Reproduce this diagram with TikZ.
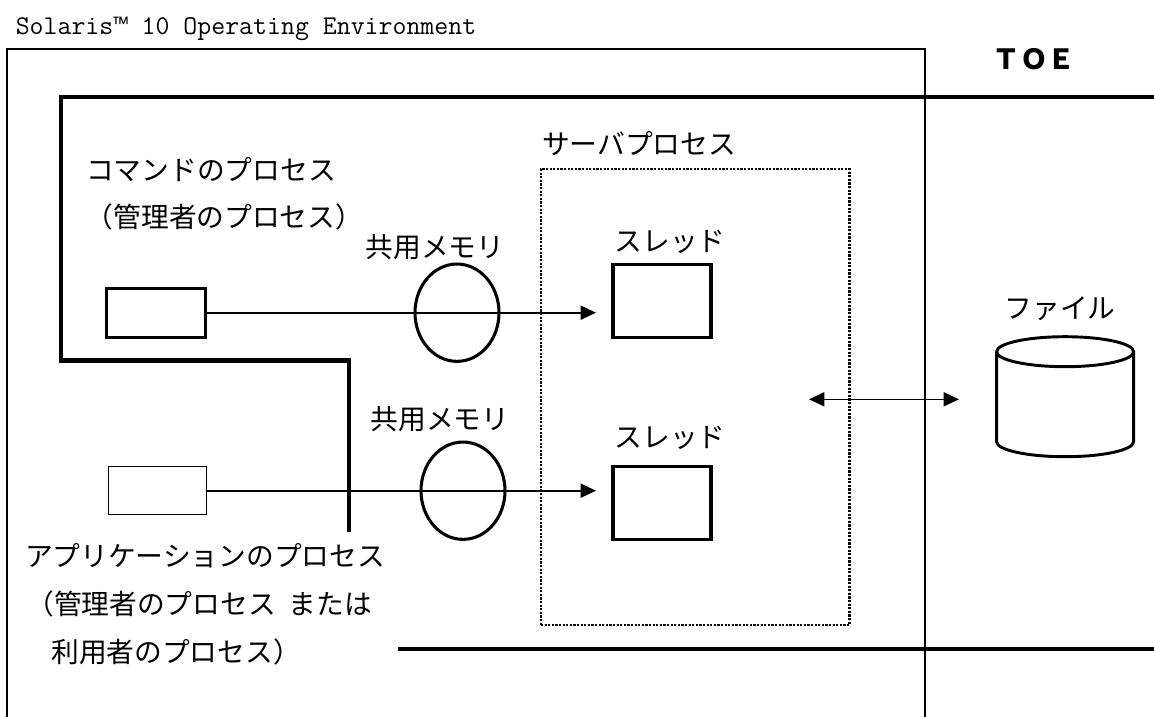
\documentclass[tikz,border=0pt]{standalone}
\usepackage{fontspec}
\usetikzlibrary{arrows.meta,shapes.geometric}
\newfontfamily\jpfont{Noto Sans CJK JP}
\newfontfamily\tmfont{Liberation Mono}
\setmonofont{Latin Modern Mono}
\tikzset{
  lbl/.style={inner sep=0pt,font=\jpfont\fontsize{20.8pt}{25pt}\selectfont,text height=18.3pt,text depth=2.5pt},
  frameline/.style={line width=1.4pt,draw=black},
  heavy/.style={line width=3.1pt,draw=black},
  boldbox/.style={draw=black,line width=2.3pt,inner sep=0pt,fill=none},
  thinbox/.style={draw=black,line width=1.1pt,inner sep=0pt},
  memo/.style={draw=black,ellipse,line width=2.3pt,inner sep=0pt,minimum width=63pt,minimum height=73pt},
  dotbox/.style={draw=black,line width=1.8pt,dash pattern=on 1.6pt off 1.1pt,inner sep=0pt},
  flow/.style={draw=black,line width=1.2pt,-{Triangle[length=11.5pt,width=10.5pt]}},
  both/.style={draw=black,line width=1.2pt,{Triangle[length=11.5pt,width=10.5pt]}-{Triangle[length=11.5pt,width=10.5pt]}}
}
\begin{document}
\begin{tikzpicture}[x=0.75pt,y=-0.75pt]
\useasboundingbox[fill=white] (0,0) rectangle (1154,717);
% frame
\draw[frameline] (7.4,717) -- (7.4,48.7) -- (925,48.7) -- (925,717);
% heavy lines
\draw[heavy,line cap=butt] (1154,96.7) -- (60.7,96.7) -- (60.7,360.5) -- (349,360.5) -- (349,531.5);
\draw[heavy] (397.5,648.7) -- (1154,648.7);
% server process
\node[dotbox,minimum width=231.3pt,minimum height=342pt] (server) at (695.2,397) {};
% boxes
\node[boldbox,minimum width=74pt,minimum height=36.5pt] (cmd) at (156,312.7) {};
\node[thinbox,minimum width=73.5pt,minimum height=36pt] (app) at (157.7,490.7) {};
\node[boldbox,minimum width=73.5pt,minimum height=54.5pt] (th1) at (662,300.8) {};
\node[boldbox,minimum width=73.5pt,minimum height=54.5pt] (th2) at (662,503) {};
\node[memo] (m1) at (457,312.7) {};
\node[memo] (m2) at (463,490.7) {};
% connectors
\coordinate (e1) at (596,312.7);
\coordinate (e2) at (596,490.7);
\coordinate (d1) at (809,399.3);
\coordinate (d2) at (959,399.3);
\draw[flow] (cmd.east) -- (e1);
\draw[flow] (app.east) -- (e2);
\draw[both] (d1) -- (d2);
% cylinder
\draw[line width=2.2pt,draw=black] (996.6,351.7) arc[x radius=68.5,y radius=15,start angle=180,end angle=-180]
  (996.6,351.7) -- (996.6,441.7) arc[x radius=68.5,y radius=15,start angle=180,end angle=0] -- (1133.6,351.7);
% labels
\node[inner sep=0pt,anchor=base west,font=\ttfamily\fontsize{20.3pt}{22pt}\selectfont] (title) at (15.5,35) {Solaris{\tmfont\fontsize{18pt}{22pt}\selectfont ™} 10 Operating Environment};
\node[lbl,font=\jpfont\bfseries\fontsize{20.8pt}{25pt}\selectfont] (toe) at (1034,58.5) {ＴＯＥ};
\node[lbl] (l1) at (211,169.5) {コマンドのプロセス};
\node[lbl] (l2) at (224.5,217) {（管理者のプロセス）};
\node[lbl] (l3) at (435,247) {共用メモリ};
\node[lbl] (l4) at (639,144) {サーバプロセス};
\node[lbl] (l5) at (670,241) {スレッド};
\node[lbl] (l6) at (670,437) {スレッド};
\node[lbl] (l7) at (1060,307.5) {ファイル};
\node[lbl] (l8) at (440,419) {共用メモリ};
\node[lbl] (l9) at (205,556) {アプリケーションのプロセス};
\node[lbl,anchor=west] (l10) at (26,604) {（管理者のプロセス\ \hspace{5pt}または};
\node[lbl,anchor=west] (l11) at (51,652) {利用者のプロセス）};
\end{tikzpicture}
\end{document}
